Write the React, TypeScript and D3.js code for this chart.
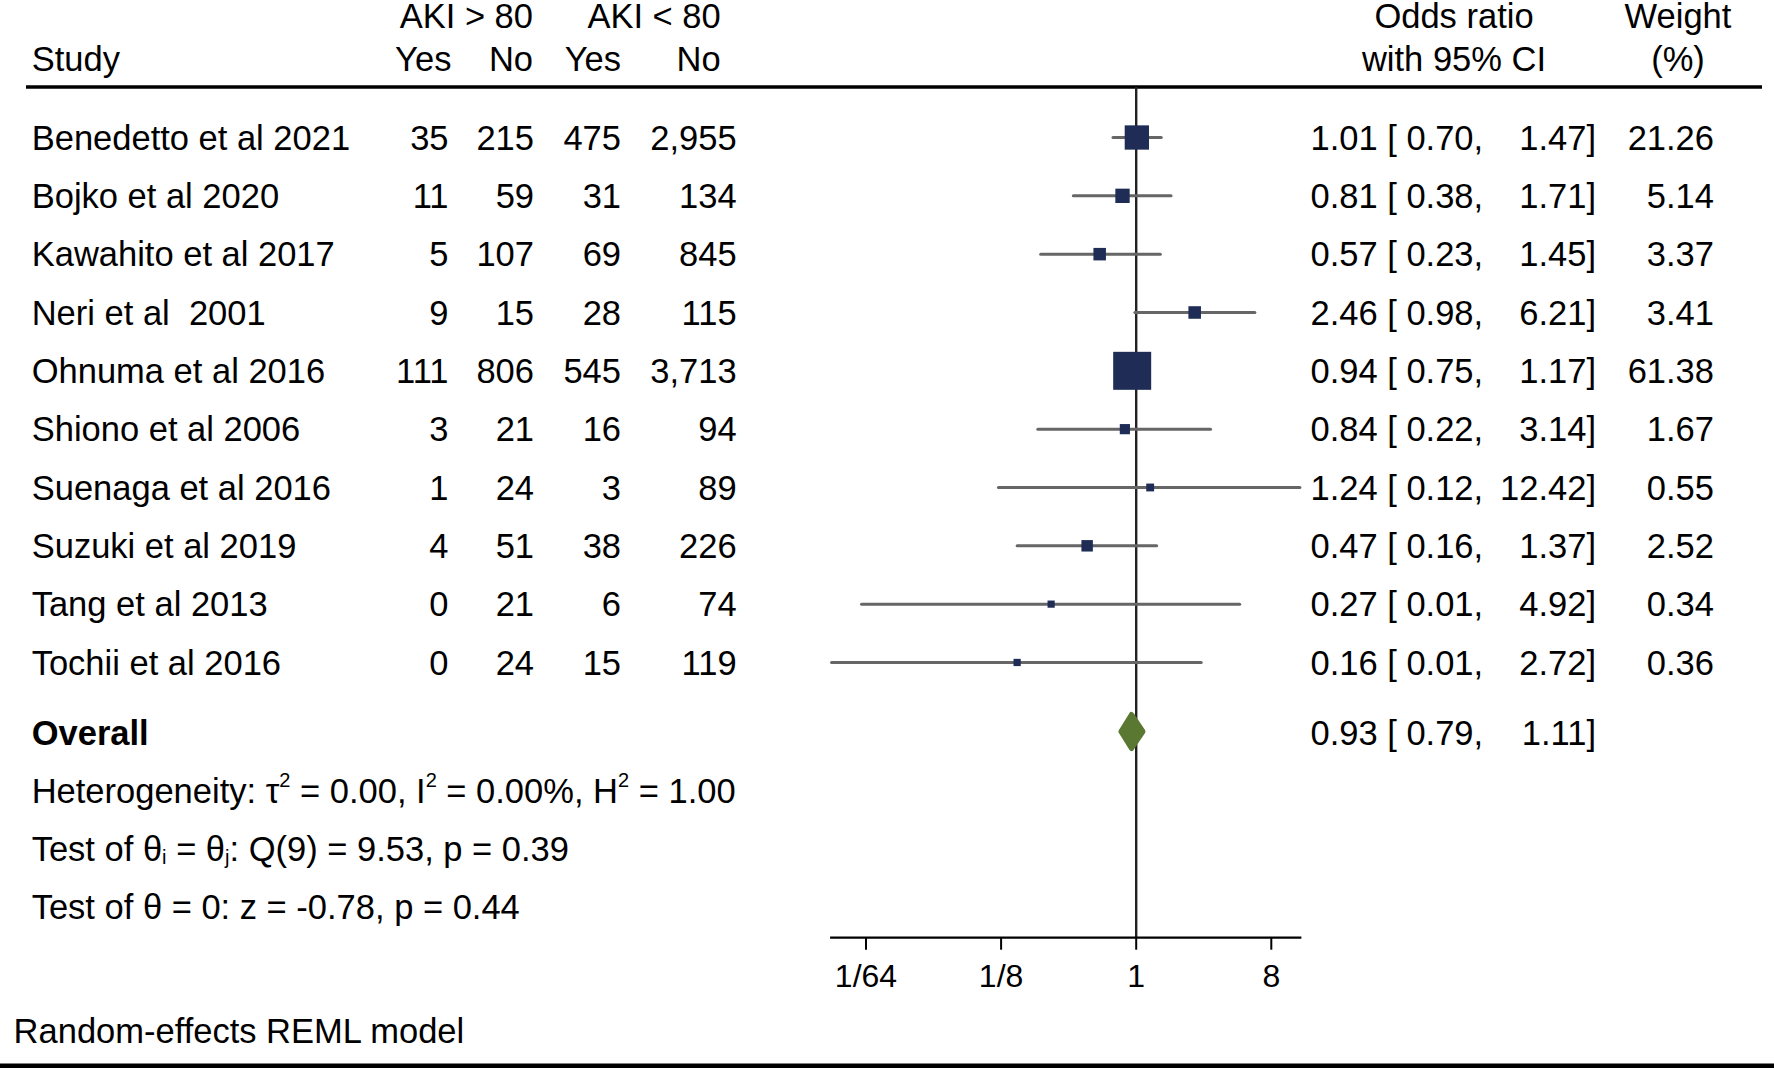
import React from "react";
import * as d3 from "d3";

const studies = [
  "Benedetto et al 2021",
  "Bojko et al 2020",
  "Kawahito et al 2017",
  "Neri et al  2001",
  "Ohnuma et al 2016",
  "Shiono et al 2006",
  "Suenaga et al 2016",
  "Suzuki et al 2019",
  "Tang et al 2013",
  "Tochii et al 2016",
];
const aki80Yes = [35, 11, 5, 9, 111, 3, 1, 4, 0, 0];
const aki80No = [215, 59, 107, 15, 806, 21, 24, 51, 21, 24];
const akiLt80Yes = [475, 31, 69, 28, 545, 16, 3, 38, 6, 15];
const akiLt80No = [2955, 134, 845, 115, 3713, 94, 89, 226, 74, 119];
const oddsRatio = [1.01, 0.81, 0.57, 2.46, 0.94, 0.84, 1.24, 0.47, 0.27, 0.16];
const ciLower = [0.7, 0.38, 0.23, 0.98, 0.75, 0.22, 0.12, 0.16, 0.0146, 0.0092];
const ciUpper = [1.47, 1.71, 1.45, 6.21, 1.17, 3.14, 12.42, 1.37, 4.92, 2.72];
const weights = [21.26, 5.14, 3.37, 3.41, 61.38, 1.67, 0.55, 2.52, 0.34, 0.36];
const overallOR = 0.93;
const overallLower = 0.79;
const overallUpper = 1.11;
const tickValues = [1 / 64, 1 / 8, 1, 8];
const tickLabels = ["1/64", "1/8", "1", "8"];

const FONT = "'Liberation Sans', Arial, Helvetica, sans-serif";
const NAVY = "#1f2d56";
const GREEN = "#5a7831";
const fmtInt = d3.format(",");

export default function App() {
  const W = 1774;
  const H = 1068;
  const x = d3
    .scaleLog()
    .base(2)
    .domain([1 / 64, 8])
    .range([866, 1271.3]);
  const rowY = d3
    .scaleLinear()
    .domain([0, 9])
    .range([137.5, 137.5 + 58.33 * 9]);
  const sideScale = d3
    .scaleLinear()
    .domain([0, Math.sqrt(61.38)])
    .range([4.7, 38]);
  const axisY = 937.7;
  const overallY = 731.5;
  const minL = d3.min(ciLower) as number;
  const maxU = d3.max(ciUpper) as number;
  const fs = 34.5;
  const textOff = 12.2;
  const h1 = 28;
  const h2 = 71;

  const colRight = [448.5, 534, 621, 736.6];
  const colData = [aki80Yes, aki80No, akiLt80Yes, akiLt80No];

  return (
    <svg
      width={W}
      height={H}
      style={{ position: "absolute", left: 0, top: 0, background: "#fff", whiteSpace: "pre" }}
      fontFamily={FONT}
      fontSize={fs}
    >
      <rect x={0} y={0} width={W} height={H} fill="#fff" />
      {/* headers */}
      <text x={533} y={h1} textAnchor="end">AKI &gt; 80</text>
      <text x={720.7} y={h1} textAnchor="end">AKI &lt; 80</text>
      <text x={31.7} y={h2}>Study</text>
      <text x={451.4} y={h2} textAnchor="end">Yes</text>
      <text x={533} y={h2} textAnchor="end">No</text>
      <text x={621} y={h2} textAnchor="end">Yes</text>
      <text x={720.7} y={h2} textAnchor="end">No</text>
      <text x={1454} y={h1} textAnchor="middle">Odds ratio</text>
      <text x={1454} y={h2} textAnchor="middle">with 95% CI</text>
      <text x={1678} y={h1} textAnchor="middle">Weight</text>
      <text x={1678} y={h2} textAnchor="middle">(%)</text>
      <line x1={26} x2={1762} y1={87} y2={87} stroke="#000" strokeWidth={3.5} />

      {/* null line */}
      <line x1={x(1)} x2={x(1)} y1={87} y2={axisY} stroke="#222" strokeWidth={2.4} />

      {/* study rows */}
      {studies.map((s, i) => {
        const y = rowY(i);
        const side = sideScale(Math.sqrt(weights[i]));
        return (
          <g key={s}>
            <text x={31.7} y={y + textOff} xmlSpace="preserve" style={{ whiteSpace: "pre" }}>{s}</text>
            {colData.map((arr, j) => (
              <text key={j} x={colRight[j]} y={y + textOff} textAnchor="end">
                {fmtInt(arr[i])}
              </text>
            ))}
            <line
              x1={x(ciLower[i])}
              x2={x(ciUpper[i])}
              y1={y}
              y2={y}
              stroke="#666"
              strokeWidth={3}
              strokeLinecap="round"
            />
            <rect
              x={x(oddsRatio[i]) - side / 2}
              y={y - side / 2}
              width={side}
              height={side}
              fill={NAVY}
            />
            <text x={1310.5} y={y + textOff} xmlSpace="preserve" style={{ whiteSpace: "pre" }}>
              {oddsRatio[i].toFixed(2) + " [ " + ciLower[i].toFixed(2) + ","}
            </text>
            <text x={1596} y={y + textOff} textAnchor="end">
              {ciUpper[i].toFixed(2) + "]"}
            </text>
            <text x={1714} y={y + textOff} textAnchor="end">
              {weights[i].toFixed(2)}
            </text>
          </g>
        );
      })}

      {/* overall */}
      <text x={31.7} y={745} fontWeight="bold">Overall</text>
      <path
        d={`M${x(overallLower)},${overallY} L${x(overallOR)},${overallY - 17} L${x(overallUpper)},${overallY} L${x(overallOR)},${overallY + 17} Z`}
        fill={GREEN}
        stroke={GREEN}
        strokeWidth={5}
        strokeLinejoin="round"
      />
      <text x={1310.5} y={745} xmlSpace="preserve" style={{ whiteSpace: "pre" }}>
        {overallOR.toFixed(2) + " [ " + overallLower.toFixed(2) + ","}
      </text>
      <text x={1596} y={745} textAnchor="end">
        {overallUpper.toFixed(2) + "]"}
      </text>

      <text x={31.7} y={803}>
        Heterogeneity: τ
        <tspan fontSize={20} dy={-16}>2</tspan>
        <tspan dy={16}> = 0.00, I</tspan>
        <tspan fontSize={20} dy={-16}>2</tspan>
        <tspan dy={16}> = 0.00%, H</tspan>
        <tspan fontSize={20} dy={-16}>2</tspan>
        <tspan dy={16}> = 1.00</tspan>
      </text>
      <text x={31.7} y={861.3}>
        Test of θ
        <tspan fontSize={20} dy={3}>i</tspan>
        <tspan dy={-3}> = θ</tspan>
        <tspan fontSize={20} dy={3}>j</tspan>
        <tspan dy={-3}>: Q(9) = 9.53, p = 0.39</tspan>
      </text>
      <text x={31.7} y={918.6}>Test of θ = 0: z = -0.78, p = 0.44</text>

      {/* axis */}
      <line x1={x(minL) - 1.5} x2={x(maxU) + 1.5} y1={axisY} y2={axisY} stroke="#000" strokeWidth={2.2} />
      {tickValues.map((t, i) => (
        <g key={i}>
          <line x1={x(t)} x2={x(t)} y1={axisY} y2={axisY + 12} stroke="#000" strokeWidth={2} />
          <text x={x(t)} y={987.3} textAnchor="middle" fontSize={32}>
            {tickLabels[i]}
          </text>
        </g>
      ))}

      <text x={13.6} y={1043.3}>Random-effects REML model</text>
      <rect x={0} y={1063.5} width={W} height={4.5} fill="#000" />
    </svg>
  );
}
